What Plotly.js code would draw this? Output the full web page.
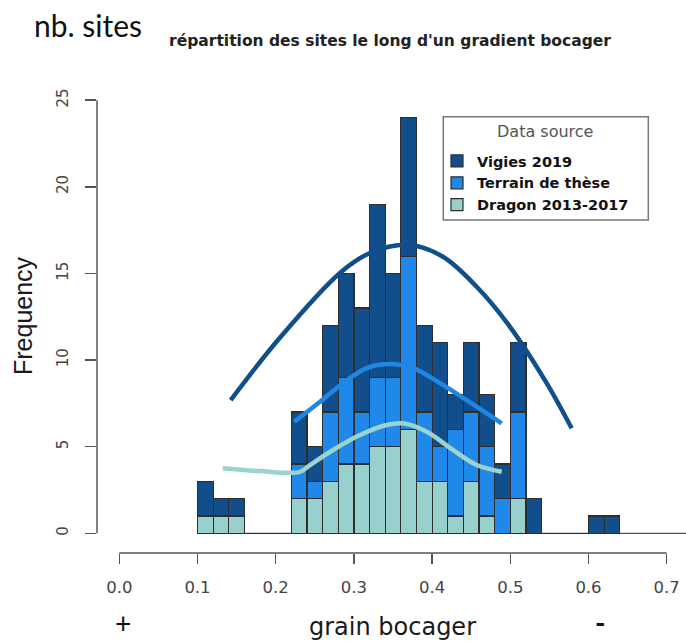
<!DOCTYPE html>
<html>
<head>
<meta charset="utf-8">
<script src="https://cdn.plot.ly/plotly-3.0.1.min.js"></script>
<style>html,body{margin:0;padding:0;background:#fff;}#chart{width:686px;height:641px;}</style>
</head>
<body>
<div id="chart"></div>
<script>
// Bin centres (bins of width 0.02 from 0.10 to 0.64)
const binCenters = [0.11,0.13,0.15,0.17,0.19,0.21,0.23,0.25,0.27,0.29,0.31,0.33,0.35,0.37,0.39,0.41,0.43,0.45,0.47,0.49,0.51,0.53,0.55,0.57,0.59,0.61,0.63];
const binWidth = 0.02;
// Stacked counts per source (bottom to top)
const dragonCounts  = [1,1,1,0,0,0,2,2,3,4,4,5,5,6,3,3,1,3,1,0,2,0,0,0,0,0,0];
const terrainCounts = [0,0,0,0,0,0,2,1,4,5,3,4,4,10,4,2,5,4,4,2,5,0,0,0,0,0,0];
const vigiesCounts  = [2,1,1,0,0,0,3,2,5,6,6,10,6,8,5,6,2,4,3,2,4,2,0,0,0,1,1];
const seriesNames = ["Dragon 2013-2017","Terrain de thèse","Vigies 2019"];

// Hand-drawn trend curves
const vigiesCurveX  = [0.1425,0.2029,0.2822,0.3206,0.3717,0.4139,0.4570,0.4996,0.5465,0.5785];
const vigiesCurveY  = [7.69,11.16,15.03,16.18,16.64,15.96,14.23,11.92,8.67,6.06];
const terrainCurveX = [0.2238,0.2567,0.2861,0.3164,0.3462,0.3756,0.4101,0.4442,0.4890];
const terrainCurveY = [6.44,7.59,8.67,9.54,9.77,9.54,8.67,7.69,6.35];
const dragonCurveX  = [0.1322,0.1799,0.2311,0.2439,0.2733,0.3078,0.3419,0.3628,0.3931,0.4267,0.4570,0.4890];
const dragonCurveY  = [3.75,3.59,3.55,3.94,4.81,5.67,6.25,6.35,5.86,4.81,3.94,3.55];

const xTicks = [0,0.1,0.2,0.3,0.4,0.5,0.6,0.7];
const yTicks = [0,5,10,15,20,25];

const colVigies = '#124e8c', colTerrain = '#1f88e8', colDragon = '#98d0cd';
const edge = {color:'#2e2e2e', width:1.2};

const traces = [
  {type:'bar', name:seriesNames[0], x:binCenters, y:dragonCounts, width:binWidth, marker:{color:colDragon, line:edge}, hoverinfo:'skip'},
  {type:'bar', name:seriesNames[1], x:binCenters, y:terrainCounts, width:binWidth, marker:{color:colTerrain, line:edge}, hoverinfo:'skip'},
  {type:'bar', name:seriesNames[2], x:binCenters, y:vigiesCounts, width:binWidth, marker:{color:colVigies, line:edge}, hoverinfo:'skip'},
  {type:'scatter', mode:'lines', x:vigiesCurveX, y:vigiesCurveY, line:{color:'#0f4f8c', width:4.5, shape:'spline', smoothing:1}, showlegend:false},
  {type:'scatter', mode:'lines', x:terrainCurveX, y:terrainCurveY, line:{color:'#1f88e5', width:4.5, shape:'spline', smoothing:1}, showlegend:false},
  {type:'scatter', mode:'lines', x:dragonCurveX, y:dragonCurveY, line:{color:'#9bd3cf', width:4.5, shape:'spline', smoothing:1}, showlegend:false}
];

// pixel helpers for layout positions
const L = 97, R = 686, T = 90, B = 553;
const px = v => (v - L) / (R - L);
const py = v => (B - v) / (B - T);

const layout = {
  width:686, height:641,
  margin:{l:L, r:686-R, t:T, b:641-B, pad:0},
  paper_bgcolor:'#fff', plot_bgcolor:'#fff',
  barmode:'stack', bargap:0,
  showlegend:true,
  title:{text:"répartition des sites le long d'un gradient bocager", x:390/686, xref:'container', xanchor:'center', y:1-41/641, yref:'container', yanchor:'middle',
         font:{family:'DejaVu Sans', size:15.5, color:'#222', weight:'bold'}},
  xaxis:{range:[-0.02852,0.72468], showgrid:false, zeroline:false, showline:false,
         tickvals:xTicks, tickformat:'.1f', ticks:'outside', ticklen:10, tickwidth:1.5, tickcolor:'#555',
         ticklabelstandoff:9, tickfont:{family:'DejaVu Sans', size:16.5, color:'#444'}},
  yaxis:{range:[-1.1365,25.588], showgrid:false, zeroline:false, showline:false,
         tickvals:yTicks, ticks:'outside', ticklen:11, tickwidth:1.5, tickcolor:'#555', tickangle:-90,
         ticklabelstandoff:11, tickfont:{family:'DejaVu Sans', size:15, color:'#444'}},
  legend:{x:px(437), xanchor:'left', y:py(145), yanchor:'top', bgcolor:'rgba(0,0,0,0)', borderwidth:0,
          traceorder:'reversed', tracegroupgap:0,
          font:{family:'DejaVu Sans', size:14.5, color:'#111', weight:'bold'}},
  shapes:[
    {type:'line', xref:'x', yref:'paper', x0:0, x1:0.7, y0:0, y1:0, line:{color:'#555', width:1.5}},
    {type:'line', xref:'paper', yref:'y', x0:0, x1:0, y0:0, y1:25, line:{color:'#555', width:1.5}},
    {type:'line', xref:'x', yref:'y', x0:0.1, x1:0.73, y0:0, y1:0, line:{color:'#555', width:1.2}, layer:'below'},
    {type:'rect', xref:'paper', yref:'paper', x0:px(443.3), x1:px(648.3), y0:py(220), y1:py(116.7), line:{color:'#777', width:1.5}}
  ],
  annotations:[
    {text:'Data source', xref:'paper', yref:'paper', x:px(545), y:py(131.5), xanchor:'center', yanchor:'middle', showarrow:false,
     font:{family:'DejaVu Sans', size:16, color:'#555'}},
    {text:'nb. sites', xref:'paper', yref:'paper', x:px(32), y:py(25), xanchor:'left', yanchor:'middle', showarrow:false,
     font:{family:'Lato', size:30, color:'#111'}},
    {text:'Frequency', xref:'paper', yref:'paper', x:px(23), y:py(316), xanchor:'center', yanchor:'middle', textangle:-90, showarrow:false,
     font:{family:'Liberation Sans', size:25, color:'#1a1a1a'}},
    {text:'grain bocager', xref:'paper', yref:'paper', x:px(392), y:py(627), xanchor:'center', yanchor:'middle', showarrow:false,
     font:{family:'DejaVu Sans', size:24, color:'#1a1a1a'}},
    {text:'+', xref:'paper', yref:'paper', x:px(123), y:py(623), xanchor:'center', yanchor:'middle', showarrow:false,
     font:{family:'Lato', size:28, color:'#111'}},
    {text:'-', xref:'paper', yref:'paper', x:px(600), y:py(622), xanchor:'center', yanchor:'middle', showarrow:false,
     font:{family:'Lato', size:28, color:'#111', weight:'bold'}}
  ]
};

Plotly.newPlot('chart', traces, layout, {displayModeBar:false, staticPlot:true});
</script>
</body>
</html>
